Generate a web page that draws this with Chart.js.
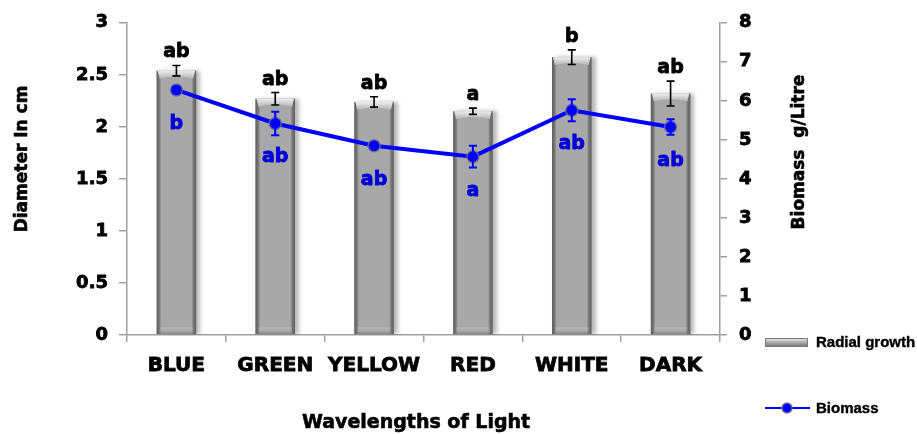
<!DOCTYPE html>
<html>
<head>
<meta charset="utf-8">
<script src="https://cdn.jsdelivr.net/npm/chart.js@4.4.1/dist/chart.umd.min.js"></script>
<style>
  html, body { margin: 0; padding: 0; background: #ffffff; }
  #wrap { width: 917px; height: 434px; }
</style>
</head>
<body>
<div id="wrap"><canvas id="c" width="917" height="434"></canvas></div>
<script>
// Light treatments
const categories = ['BLUE', 'GREEN', 'YELLOW', 'RED', 'WHITE', 'DARK'];

// Radial growth (diameter, cm) with standard error and significance letters
const radialGrowth = [2.54, 2.27, 2.24, 2.15, 2.67, 2.32];
const radialError = [0.05, 0.06, 0.05, 0.03, 0.07, 0.12];
const radialLetters = ['ab', 'ab', 'ab', 'a', 'b', 'ab'];

// Biomass (g/Litre) with standard error and significance letters
const biomass = [6.28, 5.42, 4.85, 4.57, 5.76, 5.33];
const biomassError = [0.08, 0.30, 0.05, 0.28, 0.28, 0.20];
const biomassLetters = ['b', 'ab', 'ab', 'a', 'ab', 'ab'];

// Axis tick ranges
const diameterTicks = { min: 0, max: 3, step: 0.5 };
const biomassTicks = { min: 0, max: 8, step: 1 };

const AXIS_GREY = '#a0a0a0';
const BLUE = '#0000ff';
const LABEL_BLUE = '#0000d8';
const tickFont = { family: 'DejaVu Sans', weight: 'bold', size: 18 };
const catFont = { family: 'DejaVu Sans', weight: 'bold', size: 20 };

// Heavy text: fill plus a thin outline in the same colour
function heavyText(ctx, text, x, y, color, width) {
  ctx.fillStyle = color;
  ctx.strokeStyle = color;
  ctx.lineWidth = width;
  ctx.lineJoin = 'round';
  ctx.strokeText(text, x, y);
  ctx.fillText(text, x, y);
}

// Gives each bar a soft shadow and a bevelled, cylinder-like look
const barShading = {
  id: 'barShading',
  beforeDatasetDraw(chart, args) {
    if (args.index !== 0) return;
    const ctx = chart.ctx;
    ctx.save();
    ctx.shadowColor = 'rgba(0,0,0,0.28)';
    ctx.shadowBlur = 4;
    ctx.shadowOffsetX = 4;
    ctx.shadowOffsetY = 0;
  },
  afterDatasetDraw(chart, args) {
    if (args.index !== 0) return;
    const ctx = chart.ctx;
    ctx.restore();
    ctx.save();
    args.meta.data.forEach(el => {
      const x0 = el.x - el.width / 2, x1 = el.x + el.width / 2;
      const top = el.y, base = el.base;
      // darker vertical edges
      let g = ctx.createLinearGradient(x0, 0, x1, 0);
      g.addColorStop(0, 'rgba(80,80,80,0.85)');
      g.addColorStop(0.07, 'rgba(80,80,80,0.55)');
      g.addColorStop(0.12, 'rgba(90,90,90,0)');
      g.addColorStop(0.88, 'rgba(90,90,90,0)');
      g.addColorStop(0.93, 'rgba(80,80,80,0.55)');
      g.addColorStop(1, 'rgba(80,80,80,0.85)');
      ctx.fillStyle = g;
      ctx.fillRect(x0, top, x1 - x0, base - top);
      // light bevelled cap
      g = ctx.createLinearGradient(0, top, 0, top + 8);
      g.addColorStop(0, '#eeeeee');
      g.addColorStop(1, '#b4b4b4');
      ctx.fillStyle = g;
      ctx.beginPath();
      ctx.moveTo(x0 + 1, top);
      ctx.lineTo(x1 - 1, top);
      ctx.lineTo(x1 - 3, top + 8);
      ctx.quadraticCurveTo(el.x, top + 3, x0 + 3, top + 8);
      ctx.closePath();
      ctx.fill();
      // bottom rim
      g = ctx.createLinearGradient(0, base - 7, 0, base);
      g.addColorStop(0, 'rgba(255,255,255,0.12)');
      g.addColorStop(1, 'rgba(80,80,80,0.4)');
      ctx.fillStyle = g;
      ctx.fillRect(x0 + 3, base - 7, x1 - x0 - 6, 7);
    });
    ctx.restore();
  }
};

// Error bars and significance letters for both series
const errorsAndLetters = {
  id: 'errorsAndLetters',
  afterDatasetsDraw(chart) {
    const ctx = chart.ctx;
    const yL = chart.scales.y, yR = chart.scales.y1, x = chart.scales.x;
    ctx.save();
    ctx.font = 'bold 19px "DejaVu Sans"';
    ctx.textAlign = 'center';
    // radial growth error bars (black)
    radialGrowth.forEach((v, i) => {
      const cx = x.getPixelForValue(i);
      const t = yL.getPixelForValue(v + radialError[i]);
      const b = yL.getPixelForValue(v - radialError[i]);
      ctx.strokeStyle = '#000';
      ctx.lineWidth = 1.6;
      ctx.beginPath();
      ctx.moveTo(cx, t); ctx.lineTo(cx, b);
      ctx.moveTo(cx - 4, t); ctx.lineTo(cx + 4, t);
      ctx.moveTo(cx - 4, b); ctx.lineTo(cx + 4, b);
      ctx.stroke();
      ctx.textBaseline = 'alphabetic';
      heavyText(ctx, radialLetters[i], cx, t - 8, '#000', 0.8);
    });
    // biomass error bars (blue)
    biomass.forEach((v, i) => {
      const cx = x.getPixelForValue(i);
      const t = yR.getPixelForValue(v + biomassError[i]);
      const b = yR.getPixelForValue(v - biomassError[i]);
      ctx.strokeStyle = BLUE;
      ctx.lineWidth = 2;
      ctx.beginPath();
      ctx.moveTo(cx, t); ctx.lineTo(cx, b);
      ctx.moveTo(cx - 4, t); ctx.lineTo(cx + 4, t);
      ctx.moveTo(cx - 4, b); ctx.lineTo(cx + 4, b);
      ctx.stroke();
      ctx.textBaseline = 'middle';
      heavyText(ctx, biomassLetters[i], cx, yR.getPixelForValue(v) + 34, LABEL_BLUE, 0.8);
    });
    ctx.restore();
  }
};

// Axis titles and legend
const titlesAndLegend = {
  id: 'titlesAndLegend',
  afterDraw(chart) {
    const ctx = chart.ctx;
    ctx.save();
    ctx.textAlign = 'center';
    ctx.textBaseline = 'middle';
    ctx.font = 'bold 17px "DejaVu Sans"';
    ctx.save();
    ctx.translate(23, 159);
    ctx.rotate(-Math.PI / 2);
    heavyText(ctx, 'Diameter In cm', 0, 0, '#000', 0.6);
    ctx.restore();
    ctx.save();
    ctx.translate(800, 152);
    ctx.rotate(-Math.PI / 2);
    heavyText(ctx, 'Biomass  g/Litre', 0, 0, '#000', 0.6);
    ctx.restore();
    ctx.font = 'bold 19px "DejaVu Sans"';
    ctx.textBaseline = 'alphabetic';
    heavyText(ctx, 'Wavelengths of Light', 416, 428, '#000', 0.6);

    // legend: radial growth swatch
    let g = ctx.createLinearGradient(0, 338, 0, 347);
    g.addColorStop(0, '#f0f0f0');
    g.addColorStop(0.45, '#b0b0b0');
    g.addColorStop(1, '#6e6e6e');
    ctx.fillStyle = g;
    ctx.fillRect(765, 338, 43, 9);
    ctx.strokeStyle = '#7a7a7a';
    ctx.lineWidth = 1;
    ctx.strokeRect(765.5, 338.5, 42, 8);
    // legend: biomass swatch
    ctx.strokeStyle = BLUE;
    ctx.lineWidth = 2;
    ctx.beginPath();
    ctx.moveTo(765, 408); ctx.lineTo(810, 408);
    ctx.stroke();
    ctx.beginPath();
    ctx.arc(787, 408, 5, 0, Math.PI * 2);
    ctx.fillStyle = BLUE;
    ctx.fill();
    ctx.strokeStyle = 'rgba(110,110,140,0.9)';
    ctx.lineWidth = 1.5;
    ctx.stroke();

    ctx.textAlign = 'left';
    ctx.textBaseline = 'middle';
    ctx.font = 'bold 15px "Liberation Sans"';
    heavyText(ctx, 'Radial growth', 816, 343, '#000', 0.4);
    heavyText(ctx, 'Biomass', 816, 409, '#000', 0.4);
    ctx.restore();
  }
};

new Chart(document.getElementById('c'), {
  data: {
    labels: categories,
    datasets: [
      {
        type: 'bar',
        label: 'Radial growth',
        data: radialGrowth,
        yAxisID: 'y',
        backgroundColor: '#a8a8a8',
        borderWidth: 0,
        barPercentage: 0.4,
        categoryPercentage: 1.0,
        order: 2
      },
      {
        type: 'line',
        label: 'Biomass',
        data: biomass,
        yAxisID: 'y1',
        borderColor: BLUE,
        borderWidth: 4,
        backgroundColor: BLUE,
        pointRadius: 6,
        pointBackgroundColor: BLUE,
        pointBorderColor: 'rgba(110,110,150,0.85)',
        pointBorderWidth: 1.5,
        tension: 0,
        fill: false,
        order: 1
      }
    ]
  },
  options: {
    responsive: false,
    animation: false,
    layout: { padding: { top: 19, left: 0, right: 0, bottom: 0 } },
    plugins: { legend: { display: false }, tooltip: { enabled: false } },
    scales: {
      x: {
        offset: true,
        grid: { offset: true, drawOnChartArea: false, tickLength: 7, color: AXIS_GREY, lineWidth: 1.5 },
        border: { color: AXIS_GREY, width: 1.5 },
        ticks: {
          font: catFont, color: '#000', padding: 12, maxRotation: 0, autoSkip: false,
          textStrokeColor: '#000', textStrokeWidth: 0.8
        },
        afterFit(s) { s.height = 99; }
      },
      y: {
        position: 'left',
        min: diameterTicks.min,
        max: diameterTicks.max,
        ticks: {
          stepSize: diameterTicks.step, font: tickFont, color: '#000', padding: 11,
          textStrokeColor: '#000', textStrokeWidth: 0.8,
          callback: v => String(v)
        },
        grid: { drawOnChartArea: false, tickLength: 8, color: AXIS_GREY, lineWidth: 1.5 },
        border: { color: AXIS_GREY, width: 1.5 },
        afterFit(s) { s.width = 127; }
      },
      y1: {
        position: 'right',
        min: biomassTicks.min,
        max: biomassTicks.max,
        ticks: {
          stepSize: biomassTicks.step, font: tickFont, color: '#000', padding: 12,
          textStrokeColor: '#000', textStrokeWidth: 0.8,
          callback: v => String(v)
        },
        grid: { drawOnChartArea: false, tickLength: 7, color: AXIS_GREY, lineWidth: 1.5 },
        border: { color: AXIS_GREY, width: 1.5 },
        afterFit(s) { s.width = 197; }
      }
    }
  },
  plugins: [barShading, errorsAndLetters, titlesAndLegend]
});
</script>
</body>
</html>
